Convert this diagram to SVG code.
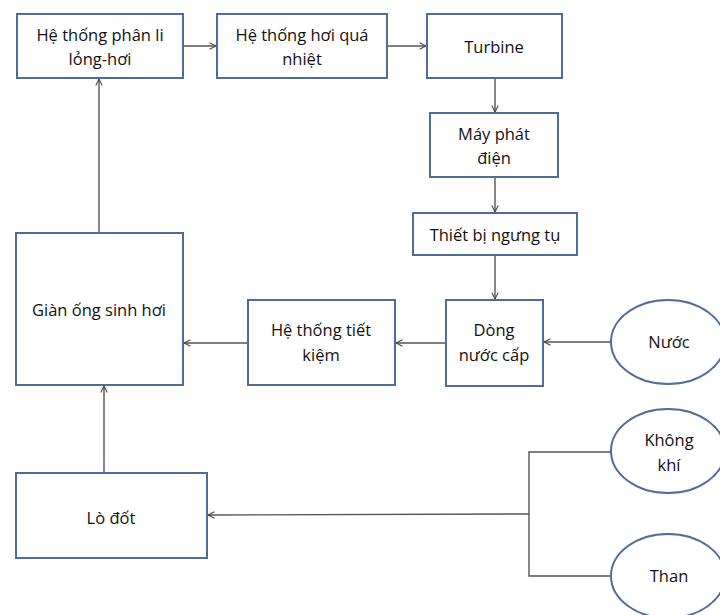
<svg xmlns="http://www.w3.org/2000/svg" width="720" height="615" viewBox="0 0 720 615">
<defs>
<style>
.box{fill:#fff;stroke:#4f6d9a;stroke-width:2}
.t{font-family:"Open Sans","Noto Sans",sans-serif;font-size:16.5px;fill:#111;text-anchor:middle}
.c{fill:none;stroke:#555;stroke-width:1.4}
</style>
<marker id="a" viewBox="0 0 10 10" refX="9" refY="5" markerWidth="8" markerHeight="8" markerUnits="userSpaceOnUse" orient="auto">
<path d="M1,1 L9,5 L1,9" fill="none" stroke="#444" stroke-width="1.3"/>
</marker>
</defs>
<rect width="720" height="615" fill="#fff"/>
<g id="connectors">
<line class="c" x1="183" y1="46" x2="216" y2="46" marker-end="url(#a)"/>
<line class="c" x1="387" y1="46" x2="426" y2="46" marker-end="url(#a)"/>
<line class="c" x1="495" y1="78" x2="495" y2="112" marker-end="url(#a)"/>
<line class="c" x1="495" y1="177" x2="495" y2="212" marker-end="url(#a)"/>
<line class="c" x1="495" y1="255" x2="495" y2="299" marker-end="url(#a)"/>
<line class="c" x1="611" y1="342" x2="544" y2="342" marker-end="url(#a)"/>
<line class="c" x1="446" y1="343" x2="396" y2="343" marker-end="url(#a)"/>
<line class="c" x1="248" y1="343" x2="184" y2="343" marker-end="url(#a)"/>
<line class="c" x1="99" y1="233" x2="99" y2="79" marker-end="url(#a)"/>
<line class="c" x1="104" y1="473" x2="104" y2="386" marker-end="url(#a)"/>
<polyline class="c" points="611,452 529,452 529,576 611,576"/>
<line class="c" x1="529" y1="514" x2="208" y2="515" marker-end="url(#a)"/>
</g>
<g id="phanli"><rect class="box" x="17" y="14" width="166" height="64"/><text class="t" x="100" y="41">Hệ thống phân li</text><text class="t" x="100" y="65">lỏng-hơi</text></g>
<g id="hoiquanhiet"><rect class="box" x="217" y="14" width="170" height="64"/><text class="t" x="302" y="41">Hệ thống hơi quá</text><text class="t" x="302" y="65">nhiệt</text></g>
<g id="turbine"><rect class="box" x="427" y="14" width="135" height="64"/><text class="t" x="494" y="53">Turbine</text></g>
<g id="mayphatdien"><rect class="box" x="430" y="113" width="128" height="64"/><text class="t" x="494" y="140">Máy phát</text><text class="t" x="494" y="164">điện</text></g>
<g id="ngungtu"><rect class="box" x="413" y="213" width="164" height="42"/><text class="t" x="495" y="241">Thiết bị ngưng tụ</text></g>
<g id="dongnuoccap"><rect class="box" x="446" y="300" width="97" height="86"/><text class="t" x="494" y="336">Dòng</text><text class="t" x="494" y="361">nước cấp</text></g>
<g id="tietkiem"><rect class="box" x="248" y="300" width="147" height="85"/><text class="t" x="321" y="336">Hệ thống tiết</text><text class="t" x="321" y="361">kiệm</text></g>
<g id="gianong"><rect class="box" x="16" y="233" width="167" height="152"/><text class="t" x="99" y="316">Giàn ống sinh hơi</text></g>
<g id="lodot"><rect class="box" x="16" y="473" width="191" height="85"/><text class="t" x="111" y="524">Lò đốt</text></g>
<g id="nuoc"><ellipse class="box" cx="668" cy="342" rx="57" ry="42"/><text class="t" x="669" y="348">Nước</text></g>
<g id="khongkhi"><ellipse class="box" cx="668" cy="451" rx="57" ry="42"/><text class="t" x="669" y="446">Không</text><text class="t" x="669" y="471">khí</text></g>
<g id="than"><ellipse class="box" cx="668" cy="576" rx="57" ry="42"/><text class="t" x="669" y="582">Than</text></g>
</svg>
